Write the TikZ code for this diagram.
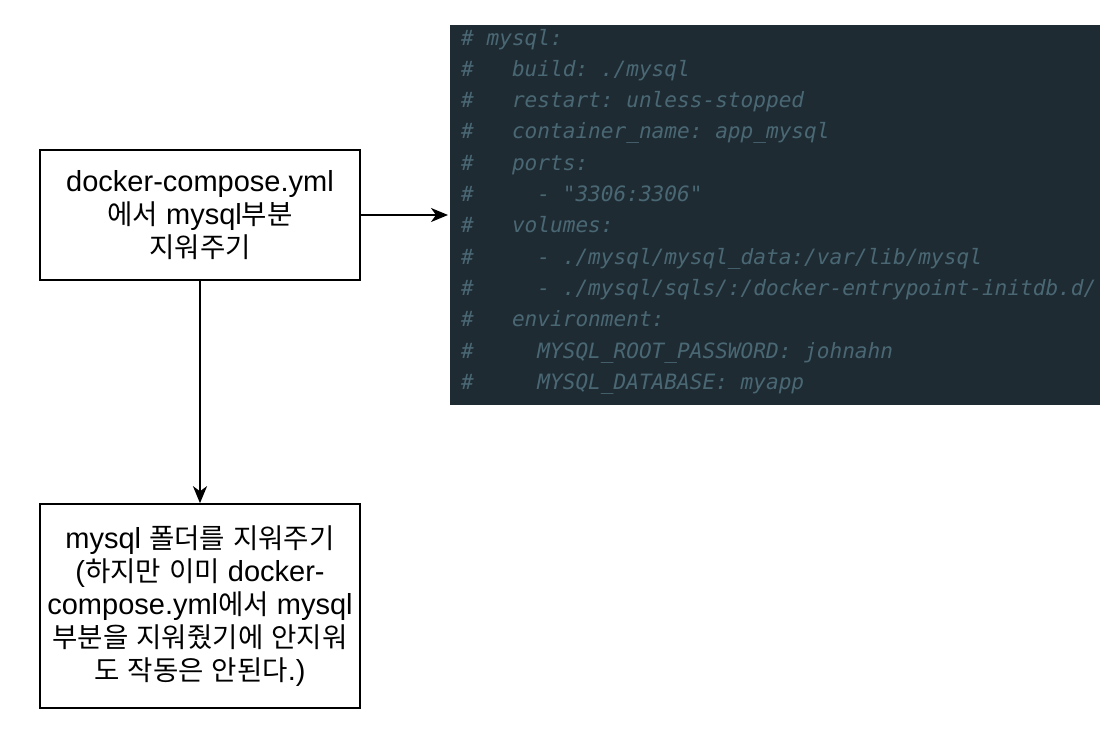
\documentclass[tikz,border=0pt]{standalone}
\usepackage{fontspec}
\setmainfont{Liberation Sans}
\setmonofont{DejaVu Sans Mono}
\newfontfamily\krfont{Noto Sans CJK KR}[Scale=0.95]
\newcommand{\kor}[1]{{\krfont #1}}
\usetikzlibrary{arrows.meta}
\definecolor{codebg}{HTML}{1F2B33}
\definecolor{codefg}{HTML}{4A6874}
\tikzset{
    box/.style={rectangle, draw, line width=1.6pt, align=center, font=\fontsize{29}{33}\selectfont},
    codeline/.style={anchor=base west, inner sep=0pt, text=codefg, font=\ttfamily\itshape\fontsize{21.1}{24}\selectfont},
    link/.style={line width=2pt, -{Stealth[length=17pt, width=14pt, inset=5pt]}}
}

\begin{document}
\begin{tikzpicture}[x=1pt, y=-1pt]
  \useasboundingbox (0,0) rectangle (1116,734);

  \node[box, minimum width=320pt, minimum height=130pt] (compose) at (200,215)
    {docker-compose.yml\\ \kor{에서} mysql\kor{부분}\\ \kor{지워주기}};
  \node[box, minimum width=320pt, minimum height=204pt] (folder) at (200,606)
    {mysql \kor{폴더를} \kor{지워주기}\\ (\kor{하지만} \kor{이미} docker-\\ compose.yml\kor{에서} mysql\\ \kor{부분을} \kor{지워줬기에} \kor{안지워}\\ \kor{도} \kor{작동은} \kor{안된다}.)};

  % screenshot of the commented yaml
  \node[rectangle, fill=codebg, inner sep=0pt, minimum width=650pt, minimum height=380pt, anchor=north west] (code) at (450,25) {};
  \foreach \t [count=\i] in {
      \# mysql:,
      \#\ \ \ build: ./mysql,
      \#\ \ \ restart: unless-stopped,
      \#\ \ \ container\_name: app\_mysql,
      \#\ \ \ ports:,
      \#\ \ \ \ \ - "3306:3306",
      \#\ \ \ volumes:,
      \#\ \ \ \ \ - ./mysql/mysql\_data:/var/lib/mysql,
      \#\ \ \ \ \ - ./mysql/sqls/:/docker-entrypoint-initdb.d/,
      \#\ \ \ environment:,
      \#\ \ \ \ \ MYSQL\_ROOT\_PASSWORD: johnahn,
      \#\ \ \ \ \ MYSQL\_DATABASE: myapp}
    \node[codeline] (line\i) at (461,{45+31.3*(\i-1)}) {\t};

  \draw[link, shorten >=2pt] (compose) -- (code.west |- compose.east);
  \draw[link] (compose) -- (folder);
\end{tikzpicture}
\end{document}
